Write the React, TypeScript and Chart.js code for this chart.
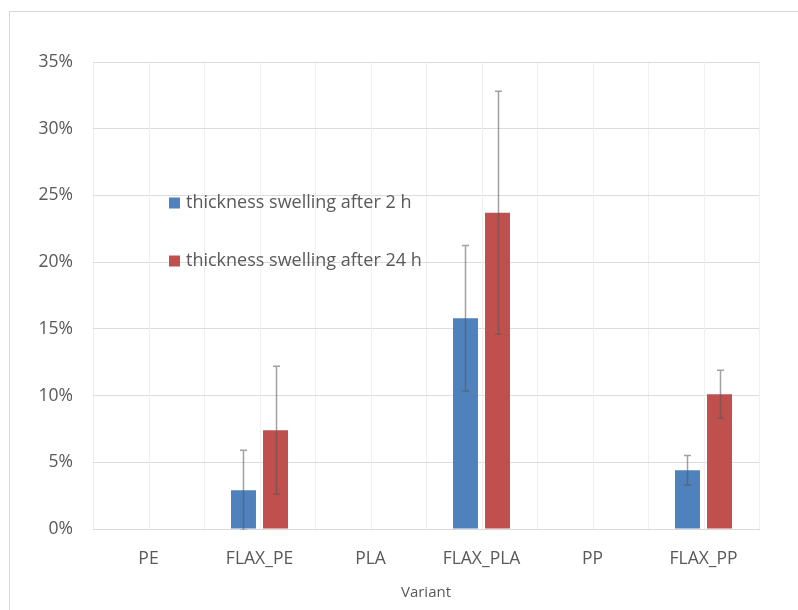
import React, { useEffect, useRef } from "react";
import { Chart, registerables } from "chart.js";

Chart.register(...registerables);

const categories = ["PE", "FLAX_PE", "PLA", "FLAX_PLA", "PP", "FLAX_PP"];
const seriesNames = ["thickness swelling after 2 h", "thickness swelling after 24 h"];
const swelling2h = [0, 2.9, 0, 15.8, 0, 4.4];
const swelling2hErr = [0, 3.0, 0, 5.45, 0, 1.1];
const swelling24h = [0, 7.4, 0, 23.7, 0, 10.1];
const swelling24hErr = [0, 4.8, 0, 9.1, 0, 1.8];
const yMin = 0;
const yMax = 35;
const yStep = 5;
const xTitle = "Variant";

const FONT = "'Open Sans', sans-serif";
const TEXT = "#595959";
const BLUE = "#4f81bd";
const RED = "#c0504d";

const errors = [swelling2hErr, swelling24hErr];

const framePlugin = {
  id: "frame",
  beforeDraw(chart: any) {
    const ctx = chart.ctx;
    ctx.save();
    ctx.fillStyle = "#ffffff";
    ctx.fillRect(0, 0, chart.width, chart.height);
    ctx.strokeStyle = "#d9d9d9";
    ctx.lineWidth = 1;
    ctx.strokeRect(9.5, 11.5, chart.width + 20, chart.height + 20);
    ctx.restore();
  },
};

const centerGridPlugin = {
  id: "centerGrid",
  beforeDatasetsDraw(chart: any) {
    const { ctx, chartArea } = chart;
    const x = chart.scales.x;
    ctx.save();
    ctx.strokeStyle = "#efefef";
    ctx.lineWidth = 1;
    categories.forEach((_, i) => {
      const px = Math.round(x.getPixelForValue(i)) + 0.5;
      ctx.beginPath();
      ctx.moveTo(px, chartArea.top);
      ctx.lineTo(px, chartArea.bottom);
      ctx.stroke();
    });
    ctx.restore();
  },
};

const errorBarPlugin = {
  id: "errorBars",
  afterDatasetsDraw(chart: any) {
    const { ctx, chartArea } = chart;
    const y = chart.scales.y;
    ctx.save();
    ctx.beginPath();
    ctx.rect(chartArea.left, chartArea.top, chartArea.right - chartArea.left, chartArea.bottom - chartArea.top + 1);
    ctx.clip();
    ctx.strokeStyle = "rgba(85,85,85,0.55)";
    ctx.lineWidth = 1.5;
    chart.data.datasets.forEach((ds: any, di: number) => {
      const meta = chart.getDatasetMeta(di);
      ds.data.forEach((v: number, i: number) => {
        const e = errors[di][i];
        if (!e) return;
        const bar = meta.data[i];
        const cx = Math.round(bar.x) + 0.5;
        const top = y.getPixelForValue(v + e);
        const bot = y.getPixelForValue(v - e);
        ctx.beginPath();
        ctx.moveTo(cx, top);
        ctx.lineTo(cx, bot);
        ctx.moveTo(cx - 3.5, top);
        ctx.lineTo(cx + 3.5, top);
        ctx.moveTo(cx - 3.5, bot);
        ctx.lineTo(cx + 3.5, bot);
        ctx.stroke();
      });
    });
    ctx.restore();
  },
};

const legendPlugin = {
  id: "insideLegend",
  afterDraw(chart: any) {
    const ctx = chart.ctx;
    const rows = [203, 261];
    ctx.save();
    ctx.font = `18px ${FONT}`;
    ctx.textBaseline = "middle";
    ctx.textAlign = "left";
    chart.data.datasets.forEach((ds: any, di: number) => {
      const yc = rows[di];
      ctx.fillStyle = ds.backgroundColor;
      ctx.fillRect(169, yc - 5.5, 11, 11);
      ctx.fillStyle = TEXT;
      ctx.fillText(ds.label, 186, yc);
    });
    ctx.restore();
  },
};

export default function App() {
  const ref = useRef<HTMLCanvasElement>(null);
  useEffect(() => {
    if (!ref.current) return;
    const chart = new Chart(ref.current, {
      type: "bar",
      data: {
        labels: categories,
        datasets: [
          {
            label: seriesNames[0],
            data: swelling2h,
            backgroundColor: BLUE,
            barPercentage: 0.78,
            categoryPercentage: 0.577,
          },
          {
            label: seriesNames[1],
            data: swelling24h,
            backgroundColor: RED,
            barPercentage: 0.78,
            categoryPercentage: 0.577,
          },
        ],
      },
      options: {
        responsive: false,
        devicePixelRatio: 1,
        animation: false,
        layout: { padding: { left: 0, top: 62, right: 39, bottom: 0 } },
        plugins: {
          legend: { display: false },
          tooltip: { enabled: false },
        },
        scales: {
          x: {
            offset: true,
            grid: { display: true, offset: true, color: "#efefef", drawTicks: false },
            border: { display: true, color: "#d9d9d9" },
            ticks: { color: TEXT, font: { family: FONT, size: 17.5 }, padding: 20 },
            title: {
              display: true,
              text: xTitle,
              color: TEXT,
              font: { family: FONT, size: 15 },
              padding: { top: 0, bottom: 8 },
            },
            afterFit(scale: any) {
              scale.height = 81;
            },
          },
          y: {
            min: yMin,
            max: yMax,
            ticks: {
              stepSize: yStep,
              color: TEXT,
              font: { family: FONT, size: 17.5 },
              padding: 20,
              callback: (v: any) => `${v}%`,
            },
            grid: { color: "#dcdcdc", drawTicks: false },
            border: { display: false },
            afterFit(scale: any) {
              scale.width = 93;
            },
          },
        },
      },
      plugins: [framePlugin, centerGridPlugin, errorBarPlugin, legendPlugin],
    });
    return () => chart.destroy();
  }, []);
  return (
    <div style={{ position: "absolute", left: 0, top: 0, width: 798, height: 610 }}>
      <canvas ref={ref} width={798} height={610} style={{ display: "block" }} />
    </div>
  );
}
